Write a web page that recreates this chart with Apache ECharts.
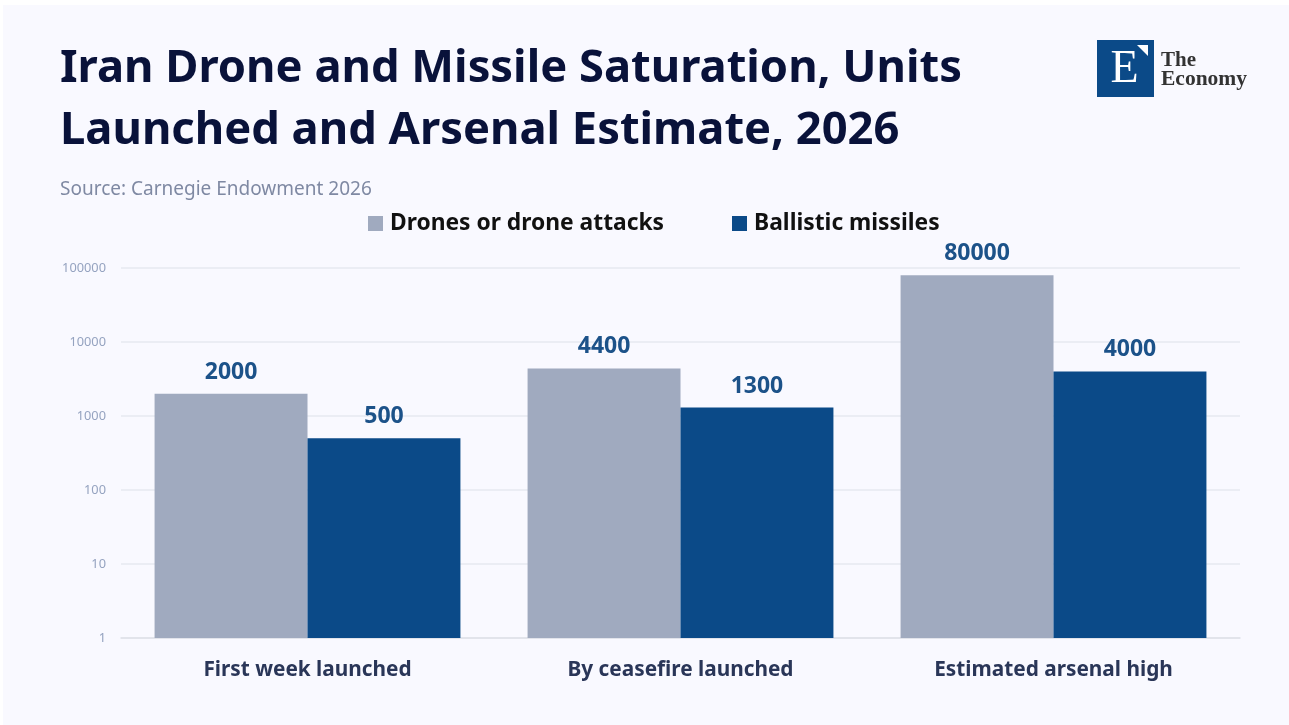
<!DOCTYPE html>
<html>
<head>
<meta charset="utf-8">
<style>
html,body{margin:0;padding:0;background:#ffffff;}
#chart{width:1289px;height:725px;}
</style>
<script src="https://cdn.jsdelivr.net/npm/echarts@6/dist/echarts.min.js"></script>
</head>
<body>
<div id="chart"></div>
<script>
// Chart content
const categories = ['First week launched', 'By ceasefire launched', 'Estimated arsenal high'];
const drones = [2000, 4400, 80000];
const missiles = [500, 1300, 4000];
const seriesNames = ['Drones or drone attacks', 'Ballistic missiles'];
const titleLines = ['Iran Drone and Missile Saturation, Units', 'Launched and Arsenal Estimate, 2026'];
const sourceText = 'Source: Carnegie Endowment 2026';

const FONT = '"Noto Sans", sans-serif';
const NAVY = '#09123a';
const BLUE = '#0b4a88';
const GREY = '#a0aabf';

const chart = echarts.init(document.getElementById('chart'), null, {renderer: 'canvas'});

const valueLabel = {
  show: true,
  position: 'top',
  distance: 10,
  fontFamily: FONT,
  fontSize: 23,
  fontWeight: 700,
  color: '#1c5289'
};

chart.setOption({
  animation: false,
  backgroundColor: '#ffffff',
  title: [
    {
      text: titleLines.join('\n'),
      left: 60,
      top: 38,
      padding: 0,
      textStyle: {fontFamily: FONT, fontSize: 45.3, fontWeight: 700, color: NAVY, lineHeight: 62}
    },
    {
      text: sourceText,
      left: 60,
      top: 180,
      padding: 0,
      textStyle: {fontFamily: FONT, fontSize: 19, fontWeight: 400, color: '#7f89a3'}
    }
  ],
  legend: {
    top: 207,
    left: 363,
    itemWidth: 15,
    itemHeight: 15,
    itemGap: 68,
    icon: 'rect',
    textStyle: {fontFamily: FONT, fontSize: 22.8, fontWeight: 700, color: '#111111', padding: [0, 0, 0, 2]},
    data: seriesNames
  },
  grid: {left: 121, right: 49, top: 268, bottom: 87},
  xAxis: {
    type: 'category',
    data: categories,
    axisTick: {show: false},
    axisLine: {lineStyle: {color: '#dfe1e8', width: 1.5}},
    axisLabel: {fontFamily: FONT, fontSize: 20.8, fontWeight: 700, color: '#2a3658', margin: 22}
  },
  yAxis: {
    type: 'log',
    logBase: 10,
    min: 1,
    max: 100000,
    axisLine: {show: false},
    axisTick: {show: false},
    axisLabel: {fontFamily: FONT, fontSize: 12.8, color: '#95a3c0', margin: 15, formatter: (value) => String(value)},
    splitLine: {lineStyle: {color: '#e6e8f1', width: 1.5}},
    minorSplitLine: {show: false}
  },
  series: [
    {name: seriesNames[0], type: 'bar', data: drones, barWidth: '41%', barGap: 0, itemStyle: {color: GREY}, label: valueLabel},
    {name: seriesNames[1], type: 'bar', data: missiles, barWidth: '41%', itemStyle: {color: BLUE}, label: valueLabel}
  ],
  graphic: [
    // Page panel
    {type: 'rect', z: -10, silent: true, shape: {x: 3, y: 5, width: 1286, height: 720}, style: {fill: '#f9f9ff'}},
    // Publisher mark
    {type: 'rect', z: 10, shape: {x: 1097, y: 40, width: 57, height: 57}, style: {fill: '#0b4a88'}},
    {type: 'polygon', z: 11, shape: {points: [[1137, 45], [1148, 45], [1148, 56]]}, style: {fill: '#ffffff'}},
    {type: 'text', z: 11, style: {x: 1124.5, y: 70, text: 'E', fill: '#ffffff', font: '46px "Liberation Serif", serif', align: 'center', verticalAlign: 'middle'}},
    {type: 'text', z: 11, style: {x: 1161, y: 61, text: 'The', fill: '#333333', font: '700 21px "Liberation Serif", serif', verticalAlign: 'middle'}},
    {type: 'text', z: 11, style: {x: 1161, y: 79, text: 'Economy', fill: '#333333', font: '700 21.5px "Liberation Serif", serif', verticalAlign: 'middle'}}
  ]
});
</script>
</body>
</html>
